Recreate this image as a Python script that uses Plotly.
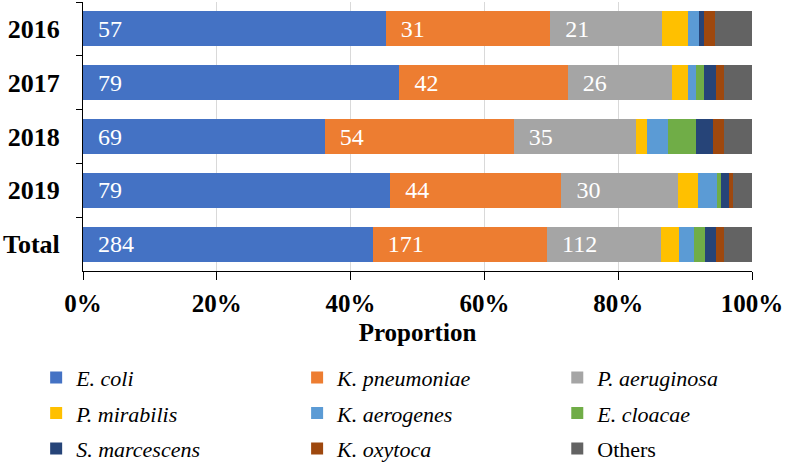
import plotly.graph_objects as go

categories = ["2016", "2017", "2018", "2019", "Total"]

e_coli = [57, 79, 69, 79, 284]
k_pneumoniae = [31, 42, 54, 44, 171]
p_aeruginosa = [21, 26, 35, 30, 112]
p_mirabilis = [5, 4, 3, 5, 17]
k_aerogenes = [2, 2, 6, 5, 15]
e_cloacae = [0, 2, 8, 1, 11]
s_marcescens = [1, 3, 5, 2, 11]
k_oxytoca = [2, 2, 3, 1, 8]
others = [7, 7, 8, 5, 27]

# legend column: legend (col 1), legend2 (col 2), legend3 (col 3)
series = [
    ("E. coli", e_coli, "#4472C4", True, "legend"),
    ("K. pneumoniae", k_pneumoniae, "#ED7D31", True, "legend2"),
    ("P. aeruginosa", p_aeruginosa, "#A5A5A5", True, "legend3"),
    ("P. mirabilis", p_mirabilis, "#FFC000", False, "legend"),
    ("K. aerogenes", k_aerogenes, "#5B9BD5", False, "legend2"),
    ("E. cloacae", e_cloacae, "#70AD47", False, "legend3"),
    ("S. marcescens", s_marcescens, "#264478", False, "legend"),
    ("K. oxytoca", k_oxytoca, "#9E480E", False, "legend2"),
    ("Others", others, "#636363", False, "legend3"),
]

FONT = "Liberation Serif, Times New Roman, serif"

fig = go.Figure()
for i, (name, vals, color, show_text, leg) in enumerate(series):
    label = name if name == "Others" else "<i>" + name + "</i>"
    if show_text:
        kw = dict(
            text=[str(v) for v in vals],
            texttemplate="\u2002%{text}",
            textposition="inside",
            insidetextanchor="start",
            textfont=dict(family=FONT, size=24, color="white"),
            constraintext="none",
        )
    else:
        kw = dict(textposition="none")
    fig.add_trace(go.Bar(
        y=categories, x=vals, name=label, orientation="h",
        marker=dict(color=color, line=dict(width=0)),
        legend=leg, legendgroup="g%d" % i, hoverinfo="x+name", **kw,
    ))

leg_common = dict(
    orientation="v", xanchor="left", yanchor="top",
    xref="container", yref="container", y=0.2445,
    font=dict(family=FONT, size=22, color="#000000"),
    bgcolor="rgba(0,0,0,0)", itemclick=False, itemdoubleclick=False,
    traceorder="grouped", tracegroupgap=4,
)

fig.update_layout(
    barmode="stack", barnorm="percent", bargap=0.35,
    width=786, height=472,
    margin=dict(l=83, r=34, t=2, b=201, autoexpand=False),
    plot_bgcolor="white", paper_bgcolor="white",
    font=dict(family=FONT, color="#000000"),
    xaxis=dict(
        range=[0, 100], dtick=20, ticksuffix="%",
        showgrid=True, gridcolor="#D9D9D9", gridwidth=1,
        showline=True, linecolor="#000000", linewidth=1,
        ticks="outside", ticklen=8, tickcolor="#000000",
        tickfont=dict(family=FONT, size=25, color="#000000", weight="bold"),
        ticklabelstandoff=2,
        title=dict(text="<b>Proportion</b>", font=dict(family=FONT, size=25, color="#000000"), standoff=7),
        zeroline=False, fixedrange=True, automargin=False,
    ),
    yaxis=dict(
        autorange="reversed", categoryorder="array", categoryarray=categories,
        showline=True, linecolor="#000000", linewidth=1,
        ticks="outside", ticklen=6, tickcolor="#000000", tickson="boundaries",
        tickfont=dict(family=FONT, size=26, color="#000000", weight="bold"),
        showgrid=False, fixedrange=True, ticklabelstandoff=17, automargin=False,
    ),
    legend=dict(x=0.046, **leg_common),
    legend2=dict(x=0.378, **leg_common),
    legend3=dict(x=0.709, **leg_common),
)

fig.write_html(
    "out.html",
    config={"displayModeBar": False},
    post_script="document.body.style.margin='0';document.body.style.padding='0';",
)
